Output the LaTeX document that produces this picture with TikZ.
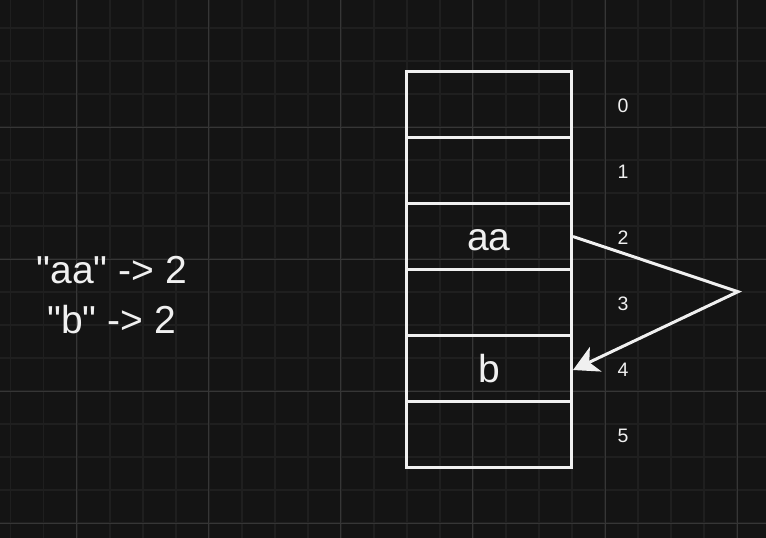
\documentclass[tikz,border=0pt]{standalone}
\usepackage{fontspec}
\setmainfont{Liberation Sans}[Ligatures=TeXOff]
\usetikzlibrary{arrows.meta}
\definecolor{bg}{HTML}{141414}
\definecolor{minorgrid}{HTML}{1F1F1F}
\definecolor{majorgrid}{HTML}{363636}
\definecolor{ink}{HTML}{F0F0F0}
\tikzset{
  minor/.style={draw=minorgrid, line width=1.6pt},
  major/.style={draw=majorgrid, line width=1pt},
  cell/.style={draw=ink, line width=3pt, minimum width=165pt, minimum height=66pt, inner sep=0pt},
  celltext/.style={text=ink, font=\fontsize{39}{44}\selectfont, anchor=base, inner sep=0pt},
  idx/.style={text=ink, font=\fontsize{19.5}{22}\selectfont, anchor=base, inner sep=0pt},
  lefttext/.style={text=ink, font=\fontsize{39}{44}\selectfont, anchor=base, inner sep=0pt},
  conn/.style={draw=ink, line width=3pt, line join=miter},
}
\begin{document}
\begin{tikzpicture}[x=1pt,y=-1pt]
\fill[bg] (0,0) rectangle (766,538);
\useasboundingbox (0,0) rectangle (766,538);
% grid
\foreach \i in {0,...,23} { \draw[minor] ({10.66+33.02*\i},0) -- ({10.66+33.02*\i},538); }
\foreach \j in {0,...,15} { \draw[minor] (0,{27.9+33.02*\j}) -- (766,{27.9+33.02*\j}); }
\foreach \i in {0,...,5} { \draw[major] ({76.7+132.08*\i},0) -- ({76.7+132.08*\i},538); }
\foreach \j in {0,...,3} { \draw[major] (0,{127+132.08*\j}) -- (766,{127+132.08*\j}); }
% cells
\foreach \k in {0,...,5} {
  \node[cell] (c\k) at (489,{104.5+66*\k}) {};
  \node[idx] (n\k) at (623,{112+66*\k}) {\k};
}
\node[celltext] (taa) at (489,250.5) {aa};
\node[celltext] (tb) at (489,382.5) {b};
% left text
\node[lefttext] (l1) at (111.7,283) {"aa" -> 2};
\node[lefttext] (l2) at (111.7,333) {"b" -> 2};
% arrow
\coordinate (apex) at (738,291.7);
\draw[conn, -{Stealth[length=25pt,width=27pt,inset=7pt,fill=ink]}] (c2.east) -- (apex) -- ([yshift=-1.5pt]c4.east);
\end{tikzpicture}
\end{document}
